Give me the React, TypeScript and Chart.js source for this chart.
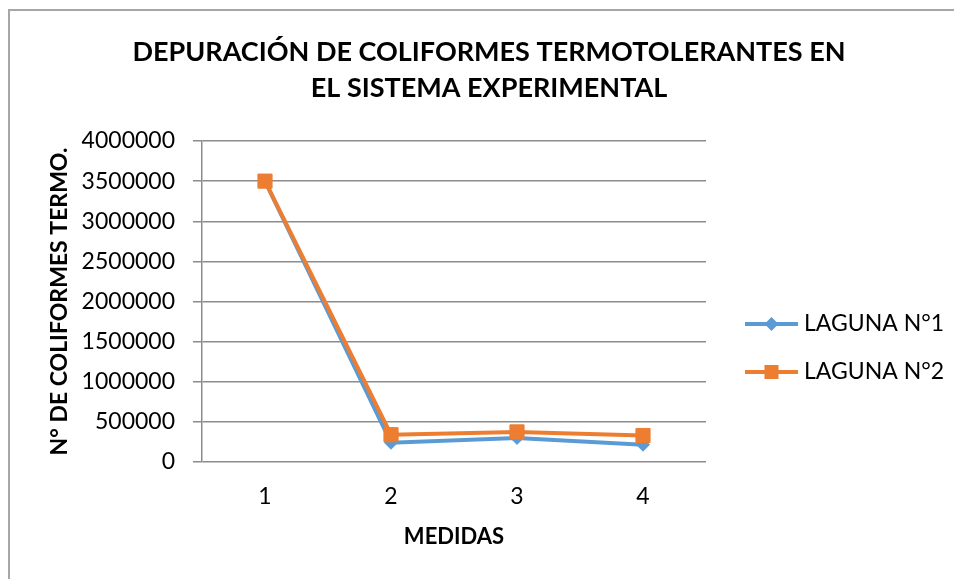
import React, { useEffect, useRef } from "react";
import { Chart, registerables } from "chart.js";

Chart.register(...registerables);

const TITLE_LINES = ["DEPURACIÓN DE COLIFORMES TERMOTOLERANTES EN", "EL SISTEMA EXPERIMENTAL"];
const CATEGORIES = ["1", "2", "3", "4"];
const LAGUNA_1 = [3500000, 240000, 300000, 215000];
const LAGUNA_2 = [3500000, 340000, 375000, 330000];
const SERIES_NAMES = ["LAGUNA N°1", "LAGUNA N°2"];
const Y_TITLE = "N° DE COLIFORMES TERMO.";
const X_TITLE = "MEDIDAS";
const Y_MIN = 0;
const Y_MAX = 4000000;
const Y_STEP = 500000;

const BLUE = "#5b9bd5";
const ORANGE = "#ed7d31";
const FONT = "Lato, 'Open Sans', sans-serif";

const decorPlugin = {
  id: "decor",
  beforeDraw(chart: any) {
    const ctx = chart.ctx;
    ctx.save();
    ctx.fillStyle = "#ffffff";
    ctx.fillRect(0, 0, chart.width, chart.height);
    ctx.strokeStyle = "#a6a6a6";
    ctx.lineWidth = 2;
    ctx.beginPath();
    ctx.moveTo(9, chart.height);
    ctx.lineTo(9, 10);
    ctx.lineTo(chart.width, 10);
    ctx.stroke();
    ctx.restore();
  },
  afterDraw(chart: any) {
    const ctx = chart.ctx;
    ctx.save();
    // title
    ctx.fillStyle = "#000000";
    ctx.font = `bold 27px ${FONT}`;
    ctx.textAlign = "center";
    ctx.textBaseline = "alphabetic";
    const baselines = [61, 97];
    TITLE_LINES.forEach((t, i) => ctx.fillText(t, 489, baselines[i]));

    // legend
    const ys = [324, 372];
    chart.data.datasets.forEach((ds: any, i: number) => {
      const y = ys[i];
      ctx.strokeStyle = ds.borderColor;
      ctx.lineWidth = 4;
      ctx.beginPath();
      ctx.moveTo(745, y);
      ctx.lineTo(798, y);
      ctx.stroke();
      ctx.fillStyle = ds.borderColor;
      ctx.beginPath();
      const cx = 771.5;
      if (ds.pointStyle === "rectRot") {
        const r = 7;
        ctx.moveTo(cx - r, y);
        ctx.lineTo(cx, y - r);
        ctx.lineTo(cx + r, y);
        ctx.lineTo(cx, y + r);
        ctx.closePath();
      } else {
        const s = 7;
        ctx.rect(cx - s, y - s, 2 * s, 2 * s);
      }
      ctx.fill();
      ctx.fillStyle = "#000000";
      ctx.font = `23px ${FONT}`;
      ctx.textAlign = "left";
      ctx.textBaseline = "middle";
      ctx.fillText(ds.label, 804, y);
    });
    ctx.restore();
  },
};

export default function App() {
  const canvasRef = useRef<HTMLCanvasElement | null>(null);

  useEffect(() => {
    if (!canvasRef.current) return;
    const chart = new Chart(canvasRef.current, {
      type: "line",
      data: {
        labels: CATEGORIES,
        datasets: [
          {
            label: SERIES_NAMES[0],
            data: LAGUNA_1,
            borderColor: BLUE,
            backgroundColor: BLUE,
            borderWidth: 4,
            pointStyle: "rectRot",
            pointRadius: 6.5,
            pointBorderWidth: 1,
            pointBackgroundColor: BLUE,
            pointBorderColor: BLUE,
            tension: 0,
            order: 1,
          },
          {
            label: SERIES_NAMES[1],
            data: LAGUNA_2,
            borderColor: ORANGE,
            backgroundColor: ORANGE,
            borderWidth: 4,
            pointStyle: "rect",
            pointRadius: 10,
            pointBorderWidth: 1,
            pointBackgroundColor: ORANGE,
            pointBorderColor: ORANGE,
            tension: 0,
            order: 0,
          },
        ],
      },
      options: {
        responsive: false,
        animation: false,
        layout: { padding: { left: 0, right: 248, top: 141, bottom: 0 } },
        plugins: {
          legend: { display: false },
          title: { display: false },
          tooltip: { enabled: false },
        },
        scales: {
          x: {
            offset: true,
            grid: { display: false },
            border: { display: false },
            ticks: {
              color: "#000000",
              font: { family: FONT, size: 23 },
              padding: 13,
              maxRotation: 0,
            },
            title: {
              display: true,
              text: X_TITLE,
              color: "#000000",
              font: { family: FONT, size: 22, weight: "bold" },
              padding: { top: 0, bottom: 29 },
            },
            afterFit(scale: any) {
              scale.height = 117;
            },
          },
          y: {
            min: Y_MIN,
            max: Y_MAX,
            grid: {
              color: "#8c8c8c",
              lineWidth: 1.5,
              tickLength: 9,
              drawTicks: true,
            },
            border: { display: true, color: "#8c8c8c", width: 1.5 },
            ticks: {
              stepSize: Y_STEP,
              color: "#000000",
              font: { family: FONT, size: 23 },
              padding: 18,
              callback: (v: any) => String(v),
            },
            title: {
              display: true,
              text: Y_TITLE,
              color: "#000000",
              font: { family: FONT, size: 23, weight: "bold" },
              padding: { top: 46, bottom: 0 },
            },
            afterFit(scale: any) {
              scale.width = 202;
            },
          },
        },
      },
      plugins: [decorPlugin],
    });
    return () => chart.destroy();
  }, []);

  return (
    <div style={{ position: "absolute", left: 0, top: 0, width: 954, height: 579, background: "#fff" }}>
      <canvas ref={canvasRef} width={954} height={579} style={{ display: "block" }} />
    </div>
  );
}
